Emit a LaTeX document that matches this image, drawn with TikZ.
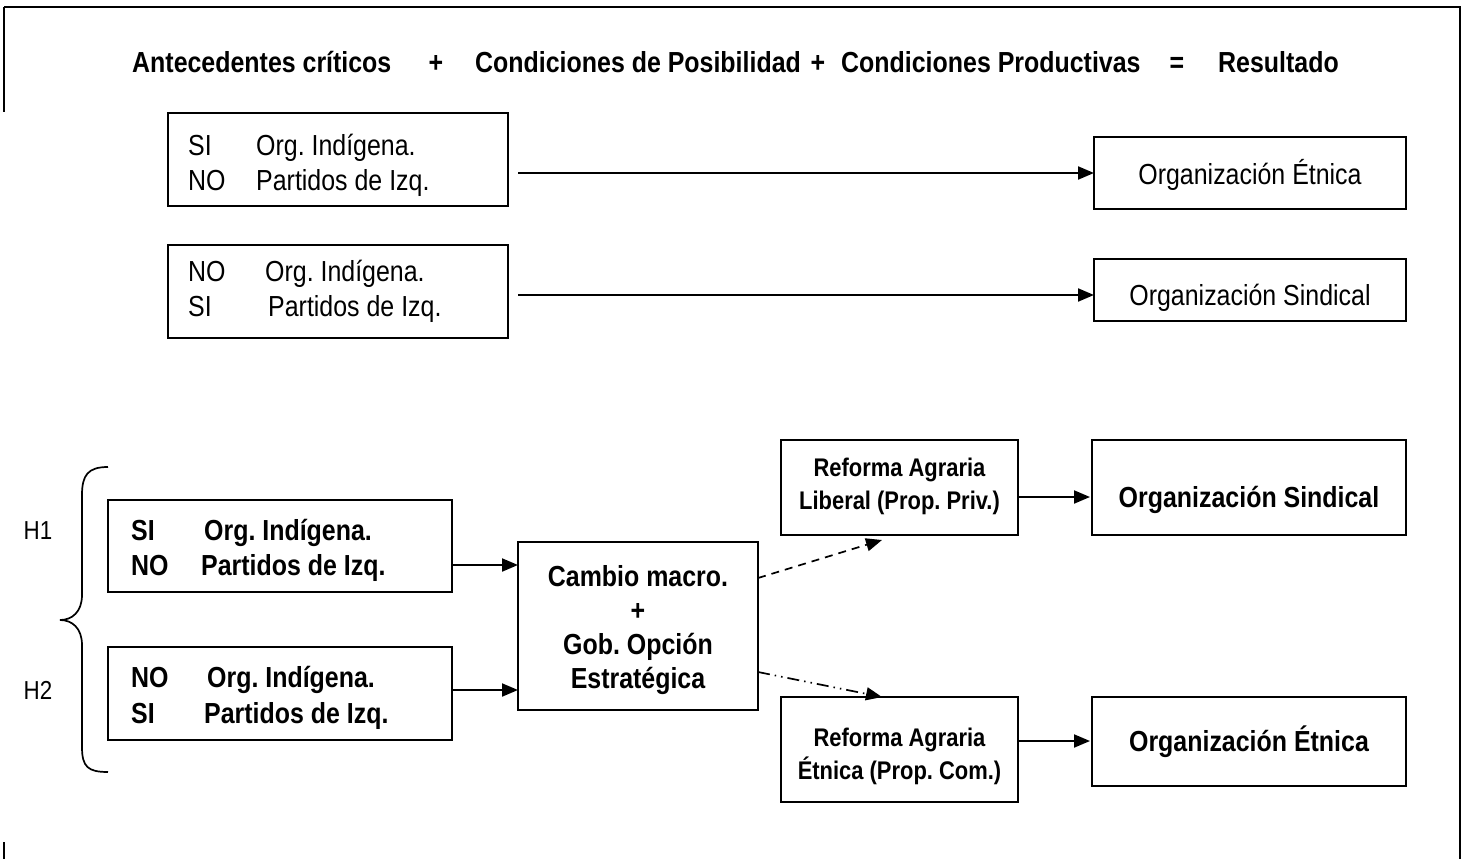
\documentclass[tikz,border=0pt]{standalone}
\usepackage{fontspec}
\setmainfont[FakeStretch=0.86]{Liberation Sans}
\usetikzlibrary{arrows.meta}
\frenchspacing
\begin{document}
\frenchspacing
\begin{tikzpicture}[x=1pt,y=-1pt,
  box/.style={draw, line width=2pt, inner sep=0pt, outer sep=0pt},
  txt/.style={inner sep=0pt, anchor=base west, font=\fontsize{29}{34}\selectfont},
  btxt/.style={inner sep=0pt, anchor=base west, font=\fontsize{29}{34}\selectfont\bfseries},
  htxt/.style={inner sep=0pt, anchor=base, font=\fontsize{29}{34}\selectfont\bfseries},
  ctxt/.style={inner sep=0pt, align=center, font=\fontsize{29}{34}\selectfont\bfseries},
  dtxt/.style={inner sep=0pt, align=center, font=\fontsize{25.5}{33}\selectfont\bfseries},
  rtxt/.style={inner sep=0pt, anchor=base, font=\fontsize{29}{34}\selectfont},
  arr/.style={-{Triangle[length=16pt,width=13pt]}, line width=2pt},
  frameline/.style={line width=2.8pt}]
\useasboundingbox (0,0) rectangle (1466,859);
% frame
\draw[frameline] (4,7) -- (1461,7);
\draw[frameline] (4,7) -- (4,112);
\draw[frameline] (1460,7) -- (1460,859);
\draw[frameline] (4,842) -- (4,859);
% header
\node[htxt, anchor=base west] (ha) at (132,72) {Antecedentes críticos};
\node[htxt] (hp1) at (436,72) {+};
\node[htxt, anchor=base west] (hb) at (475,72) {Condiciones de Posibilidad};
\node[htxt] (hp2) at (818,72) {+};
\node[htxt, anchor=base west] (hc) at (841,72) {Condiciones Productivas};
\node[htxt] (heq) at (1177,72) {=};
\node[htxt, anchor=base west] (hd) at (1218,72) {Resultado};
% upper row 1
\node[box, minimum width=340pt, minimum height=93pt] (a1) at (338,159.5) {};
\node[txt] (a1s) at (188,155) {SI};
\node[txt] (a1o) at (256,155) {Org. Indígena.};
\node[txt] (a1n) at (188,190) {NO};
\node[txt] (a1p) at (256,190) {Partidos de Izq.};
\node[box, minimum width=312pt, minimum height=72pt] (r1) at (1250,173) {};
\node[rtxt] (r1t) at (1250,184) {Organización Étnica};
\draw[arr] ([xshift=10pt]a1.east |- r1.west) -- (r1.west);
% upper row 2
\node[box, minimum width=340pt, minimum height=93pt] (a2) at (338,291.5) {};
\node[txt] (a2n) at (188,281) {NO};
\node[txt] (a2o) at (265,281) {Org. Indígena.};
\node[txt] (a2s) at (188,316) {SI};
\node[txt] (a2p) at (268,316) {Partidos de Izq.};
\node[box, minimum width=312pt, minimum height=62pt] (r2) at (1250,290) {};
\node[rtxt] (r2t) at (1250,305) {Organización Sindical};
\draw[arr] ([xshift=10pt]a2.east |- 0,295) -- (r2.west |- 0,295);
% lower part
\node[box, minimum width=344pt, minimum height=92pt] (b1) at (280,546) {};
\node[btxt] (b1s) at (131,540) {SI};
\node[btxt] (b1o) at (204,540) {Org. Indígena.};
\node[btxt] (b1n) at (131,575) {NO};
\node[btxt] (b1p) at (201,575) {Partidos de Izq.};
\node[box, minimum width=344pt, minimum height=93pt] (b2) at (280,693.5) {};
\node[btxt] (b2n) at (131,687) {NO};
\node[btxt] (b2o) at (207,687) {Org. Indígena.};
\node[btxt] (b2s) at (131,723) {SI};
\node[btxt] (b2p) at (204,723) {Partidos de Izq.};
\node[box, minimum width=240pt, minimum height=168pt] (c) at (638,626) {};
\node[ctxt] (ct) at (638,630) {Cambio macro.\\+\\Gob. Opción\\Estratégica};
\draw[arr] (b1.east |- 0,565) -- (c.west |- 0,565);
\draw[arr] (b2.east |- 0,690) -- (c.west |- 0,690);
\node[box, minimum width=237pt, minimum height=95pt] (d1) at (899.5,487.5) {};
\node[dtxt] (d1t) at (899.5,486) {Reforma Agraria\\Liberal (Prop. Priv.)};
\node[box, minimum width=314pt, minimum height=95pt] (e1) at (1249,487.5) {};
\node[htxt] (e1t) at (1249,507) {Organización Sindical};
\draw[arr] (d1.east |- 0,497) -- ([xshift=-2pt]e1.west |- 0,497);
\node[box, minimum width=237pt, minimum height=105pt] (d2) at (899.5,749.5) {};
\node[dtxt] (d2t) at (899.5,756) {Reforma Agraria\\Étnica (Prop. Com.)};
\node[box, minimum width=314pt, minimum height=89pt] (e2) at (1249,741.5) {};
\node[htxt] (e2t) at (1249,751) {Organización Étnica};
\draw[arr] (d2.east |- 0,741) -- ([xshift=-2pt]e2.west |- 0,741);
\coordinate (dtip) at (882,540);
\coordinate (etip) at (882,697);
\draw[arr, line width=1.7pt, dash pattern=on 8pt off 6pt] (c.east |- 0,578) -- (dtip);
\draw[arr, line width=1.7pt, dash pattern=on 12pt off 5pt on 1.5pt off 5pt on 1.5pt off 5pt] (c.east |- 0,672) -- (etip);
% brace
\draw[line width=1.7pt] (108,467) .. controls (88,467) and (82,475) .. (82,495) -- (82,595) .. controls (82,612) and (72,620) .. (60,620)
  .. controls (72,620) and (82,628) .. (82,645) -- (82,747) .. controls (82,767) and (88,772) .. (108,772);
\node[rtxt, font=\fontsize{26}{30}\selectfont] (h1) at (38,539) {H1};
\node[rtxt, font=\fontsize{26}{30}\selectfont] (h2) at (38,699) {H2};
\end{tikzpicture}
\end{document}
